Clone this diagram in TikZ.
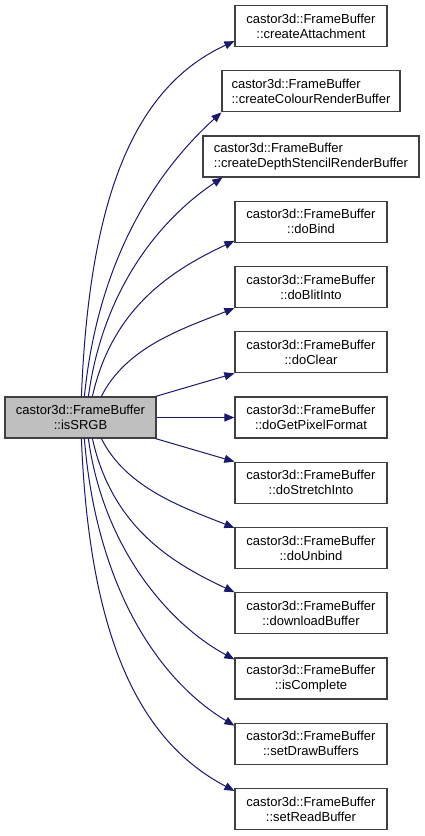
\documentclass[tikz,border=0pt]{standalone}
\usepackage{fontspec}
\setmainfont{Liberation Sans}
\usepackage{tikz}
\usetikzlibrary{arrows.meta,positioning}

\definecolor{edgeblue}{HTML}{191970}
\definecolor{boxline}{HTML}{404040}

\begin{document}
\begin{tikzpicture}[
  x=1pt,y=-1pt,
  fn/.style={rectangle,draw=boxline,line width=1.2pt,fill=white,
             minimum width=152pt,minimum height=41pt,inner sep=0pt,
             align=center,font=\fontsize{13}{15}\selectfont},
  cur/.style={fn,fill=gray!50},
  call/.style={-{Triangle[length=10pt,width=8pt]},edgeblue,line width=1pt},
]
  \useasboundingbox (0,0) rectangle (424,836);

  % Caller (left)
  \node[cur,minimum width=151pt] (isSRGB) at (80.5,417.5) {castor3d::FrameBuffer\\::isSRGB};

  % Callees (right column)
  \node[fn] (createAttachment) at (311,26) {castor3d::FrameBuffer\\::createAttachment};
  \node[fn,minimum width=178pt,align=left] (createColour) at (311,91.25) {castor3d::FrameBuffer\\::createColourRenderBuffer};
  \node[fn,minimum width=216pt,align=left] (createDepth) at (311,156.5) {castor3d::FrameBuffer\\::createDepthStencilRenderBuffer};
  \node[fn] (doBind) at (311,221.75) {castor3d::FrameBuffer\\::doBind};
  \node[fn] (doBlitInto) at (311,287) {castor3d::FrameBuffer\\::doBlitInto};
  \node[fn] (doClear) at (311,352.25) {castor3d::FrameBuffer\\::doClear};
  \node[fn] (doGetPixelFormat) at (311,417.5) {castor3d::FrameBuffer\\::doGetPixelFormat};
  \node[fn] (doStretchInto) at (311,482.75) {castor3d::FrameBuffer\\::doStretchInto};
  \node[fn] (doUnbind) at (311,548) {castor3d::FrameBuffer\\::doUnbind};
  \node[fn] (downloadBuffer) at (311,613.25) {castor3d::FrameBuffer\\::downloadBuffer};
  \node[fn] (isComplete) at (311,678.5) {castor3d::FrameBuffer\\::isComplete};
  \node[fn] (setDrawBuffers) at (311,743.75) {castor3d::FrameBuffer\\::setDrawBuffers};
  \node[fn] (setReadBuffer) at (311,809) {castor3d::FrameBuffer\\::setReadBuffer};

  % Calls going up
  \draw[call] ([xshift=77pt]isSRGB.north west) .. controls +(8,-200) and +(-100,46) .. ([yshift=6pt]createAttachment.south west);
  \draw[call] ([xshift=80pt]isSRGB.north west) .. controls +(15,-150) and +(-55,50) .. (createColour.south west);
  \draw[call] ([xshift=84pt]isSRGB.north west) .. controls +(15,-110) and +(-60,40) .. ([xshift=20pt]createDepth.south west);
  \draw[call] ([xshift=88pt]isSRGB.north west) .. controls +(20,-90) and +(-60,28) .. ([yshift=2pt]doBind.south west);
  \draw[call] ([xshift=97pt]isSRGB.north west) .. controls +(25,-50) and +(-50,20) .. (doBlitInto.south west);
  \draw[call] ([xshift=-1pt]isSRGB.north east) -- (doClear.south west);

  % Straight across
  \draw[call] (isSRGB) -- (doGetPixelFormat);

  % Calls going down
  \draw[call] ([xshift=-1pt]isSRGB.south east) -- (doStretchInto.north west);
  \draw[call] ([xshift=97pt]isSRGB.south west) .. controls +(25,50) and +(-50,-20) .. ([yshift=-1pt]doUnbind.north west);
  \draw[call] ([xshift=88pt]isSRGB.south west) .. controls +(20,90) and +(-60,-28) .. (downloadBuffer.north west);
  \draw[call] ([xshift=84pt]isSRGB.south west) .. controls +(15,110) and +(-65,-35) .. ([yshift=-2pt]isComplete.north west);
  \draw[call] ([xshift=80pt]isSRGB.south west) .. controls +(12,150) and +(-75,-45) .. ([yshift=-3pt]setDrawBuffers.north west);
  \draw[call] ([xshift=77pt]isSRGB.south west) .. controls +(8,200) and +(-95,-50) .. ([yshift=-3pt]setReadBuffer.north west);
\end{tikzpicture}
\end{document}
